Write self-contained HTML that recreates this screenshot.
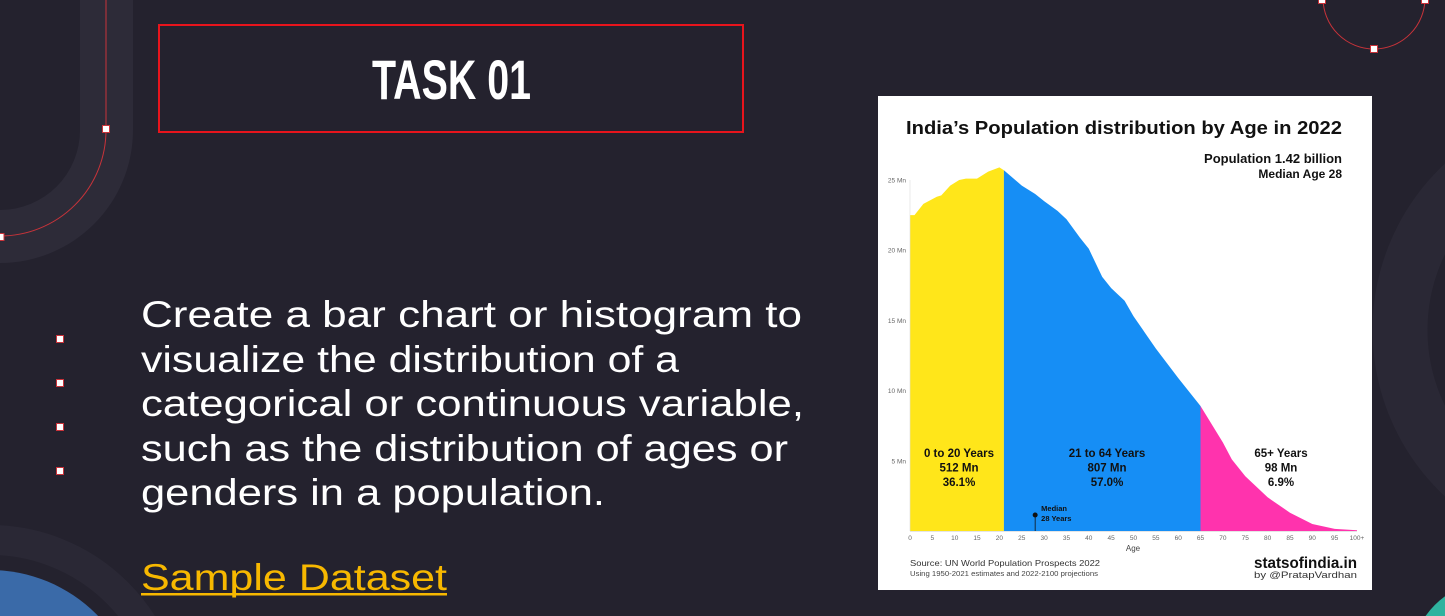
<!DOCTYPE html>
<html><head><meta charset="utf-8"><style>
html,body{margin:0;padding:0;background:#24222e;}
body{width:1445px;height:616px;overflow:hidden;position:relative;font-family:"Liberation Sans",sans-serif;}
svg{position:absolute;left:0;top:0;overflow:hidden;display:block;}
</style></head><body>
<svg width="1445" height="616" viewBox="0 0 1445 616">
  <path d="M80,0 L133,0 L133,130 A133,133 0 0 1 0,263 L0,210 A80,80 0 0 0 80,130 Z" fill="#2d2b38"/>
  <path d="M106,0 L106,130 A106,106 0 0 1 0,236" fill="none" stroke="#c8333a" stroke-width="1"/>
  <rect x="102.5" y="125.5" width="7" height="7" fill="#fff" stroke="#c8333a" stroke-width="1"/>
  <rect x="-3" y="233.5" width="7" height="7" fill="#fff" stroke="#c8333a" stroke-width="1"/>
  <circle cx="1600" cy="330" r="200" fill="none" stroke="#2a2835" stroke-width="55"/>
  <circle cx="1374" cy="-2" r="51" fill="none" stroke="#c8333a" stroke-width="1"/>
  <rect x="1370.5" y="45.5" width="7" height="7" fill="#fff" stroke="#c8333a"/>
  <rect x="1318.5" y="-3.5" width="7" height="7" fill="#fff" stroke="#c8333a"/>
  <rect x="1421.5" y="-3.5" width="7" height="7" fill="#fff" stroke="#c8333a"/>
  <circle cx="1495" cy="665" r="85" fill="#2fb39f"/>
  <circle cx="-10" cy="720" r="180" fill="none" stroke="#2a2835" stroke-width="30"/>
  <circle cx="-10" cy="720" r="150" fill="#3a6aa8"/>

  <rect x="159" y="25" width="584" height="107" fill="none" stroke="#e8141c" stroke-width="2"/>
  <text x="372" y="99" font-family="Liberation Sans Narrow, Liberation Sans, sans-serif" font-weight="bold" font-size="56" fill="#fff" textLength="159" lengthAdjust="spacingAndGlyphs">TASK 01</text>

  <rect x="56.5" y="335.5" width="7" height="7" fill="#fff" stroke="#c8333a"/>
  <rect x="56.5" y="379.5" width="7" height="7" fill="#fff" stroke="#c8333a"/>
  <rect x="56.5" y="423.5" width="7" height="7" fill="#fff" stroke="#c8333a"/>
  <rect x="56.5" y="467.5" width="7" height="7" fill="#fff" stroke="#c8333a"/>

  <g font-size="37" fill="#ffffff" font-family="Liberation Sans, sans-serif">
    <text x="141" y="327" textLength="661" lengthAdjust="spacingAndGlyphs">Create a bar chart or histogram to</text>
    <text x="141" y="372" textLength="538" lengthAdjust="spacingAndGlyphs">visualize the distribution of a</text>
    <text x="141" y="416" textLength="663" lengthAdjust="spacingAndGlyphs">categorical or continuous variable,</text>
    <text x="141" y="461" textLength="647" lengthAdjust="spacingAndGlyphs">such as the distribution of ages or</text>
    <text x="141" y="505" textLength="464" lengthAdjust="spacingAndGlyphs">genders in a population.</text>
  </g>
  <text x="141" y="590" font-size="37" fill="#f7b800" textLength="306" lengthAdjust="spacingAndGlyphs">Sample Dataset</text>
  <rect x="141" y="593" width="306" height="2.5" fill="#f7b800"/>

  <rect x="878" y="96" width="494" height="494" fill="#ffffff"/>
  <text x="906" y="134" font-size="18" font-weight="bold" fill="#111" textLength="436" lengthAdjust="spacingAndGlyphs">India’s Population distribution by Age in 2022</text>
  <text x="1342" y="163" text-anchor="end" font-size="13" font-weight="bold" fill="#111">Population 1.42 billion</text>
  <text x="1342" y="178" text-anchor="end" font-size="12" font-weight="bold" fill="#111">Median Age 28</text>
  <g id="plot"></g>
  <text x="1133" y="551" text-anchor="middle" font-size="8" fill="#444">Age</text>
  <text x="910" y="566" font-size="8.5" fill="#333" textLength="190" lengthAdjust="spacingAndGlyphs">Source: UN World Population Prospects 2022</text>
  <text x="910" y="576" font-size="7" fill="#444" textLength="188" lengthAdjust="spacingAndGlyphs">Using 1950-2021 estimates and 2022-2100 projections</text>
  <text x="1357" y="568" text-anchor="end" font-size="16" font-weight="bold" fill="#111" textLength="103" lengthAdjust="spacingAndGlyphs">statsofindia.in</text>
  <text x="1357" y="578" text-anchor="end" font-size="9.5" fill="#333" textLength="103" lengthAdjust="spacingAndGlyphs">by @PratapVardhan</text>
</svg>
<script>
const ages = [0,1,3,6,7,9,11,12.5,15,17.5,20,21,25,28,30,33,35,38,40,43,45,48,50,55,60,65,70,72,75,80,85,90,95,100];
const popMn = [22.5,22.5,23.3,23.8,23.9,24.6,25.0,25.1,25.1,25.6,25.9,25.7,24.6,24.0,23.5,22.8,22.2,20.9,20.1,18.1,17.3,16.4,15.3,13.0,10.9,8.9,6.3,5.1,3.9,2.4,1.3,0.5,0.15,0.05];
const groupLabels = ["0 to 20 Years","21 to 64 Years","65+ Years"];
const groupMn = ["512 Mn","807 Mn","98 Mn"];
const groupPct = ["36.1%","57.0%","6.9%"];
const groupStart = [0,21,65];
const groupEnd = [21,65,100];
const groupColors = ["#ffe61a","#168ef5","#ff33ad"];
const yTicks = [5,10,15,20,25];
const xTicks = [0,5,10,15,20,25,30,35,40,45,50,55,60,65,70,75,80,85,90,95,100];
const xTickLabels = ["0","5","10","15","20","25","30","35","40","45","50","55","60","65","70","75","80","85","90","95","100+"];
const medianAge = 28;

const NS = "http://www.w3.org/2000/svg";
const X0 = 910, X1 = 1357, Y0 = 531, PERMN = (531 - 180) / 25;
const xs = a => X0 + (a / 100) * (X1 - X0);
const ys = v => Y0 - v * PERMN;
function val(a){
  for (let i = 0; i < ages.length - 1; i++) {
    if (a >= ages[i] && a <= ages[i+1]) {
      const t = (a - ages[i]) / (ages[i+1] - ages[i]);
      return popMn[i] + t * (popMn[i+1] - popMn[i]);
    }
  }
  return popMn[popMn.length - 1];
}
const plot = document.getElementById('plot');
function mk(tag, attrs){ const e = document.createElementNS(NS, tag); for (const k in attrs) e.setAttribute(k, attrs[k]); plot.appendChild(e); return e; }

groupStart.forEach((s, gi) => {
  const e = groupEnd[gi];
  const pts = [[xs(s), Y0], [xs(s), ys(val(s))]];
  ages.forEach((a, i) => { if (a > s && a < e) pts.push([xs(a), ys(popMn[i])]); });
  pts.push([xs(e), ys(val(e))], [xs(e), Y0]);
  const p = mk('polygon', {points: pts.map(p => p[0].toFixed(1) + ',' + p[1].toFixed(1)).join(' '), fill: groupColors[gi]});
  
  
  const cx = [959, 1107, 1281][gi];
  [groupLabels[gi], groupMn[gi], groupPct[gi]].forEach((t, li) => {
    const tx = mk('text', {x: cx, y: 457 + li * 14.5, 'text-anchor': 'middle', 'font-size': 11.5, 'font-weight': 'bold', fill: '#111'});
    tx.textContent = t;
    
    
  });
});

const yAxis = mk('line', {x1: X0, y1: ys(25), x2: X0, y2: Y0, stroke: '#ddd', 'stroke-width': 0.6});


yTicks.forEach(v => {
  const t = mk('text', {x: 906, y: ys(v) + 2.5, 'text-anchor': 'end', 'font-size': 6.5, fill: '#666'});
  t.textContent = v + ' Mn';
  
  
});
const xAxis = mk('line', {x1: X0, y1: Y0 + 0.5, x2: X1, y2: Y0 + 0.5, stroke: '#ccc', 'stroke-width': 0.6});


xTicks.forEach((a, i) => {
  const t = mk('text', {x: xs(a), y: 540, 'text-anchor': 'middle', 'font-size': 6.5, fill: '#666'});
  t.textContent = xTickLabels[i];
  
  
});
const ml = mk('line', {x1: xs(medianAge), y1: 515, x2: xs(medianAge), y2: Y0, stroke: '#111', 'stroke-width': 0.8});


const md = mk('circle', {cx: xs(medianAge), cy: 515, r: 2.5, fill: '#111'});


const mt1 = mk('text', {x: xs(medianAge) + 6, y: 511, 'font-size': 7.5, 'font-weight': 'bold', fill: '#111'});
mt1.textContent = 'Median';


const mt2 = mk('text', {x: xs(medianAge) + 6, y: 521, 'font-size': 7.5, 'font-weight': 'bold', fill: '#111'});
mt2.textContent = '28 Years';


</script>
</body></html>
